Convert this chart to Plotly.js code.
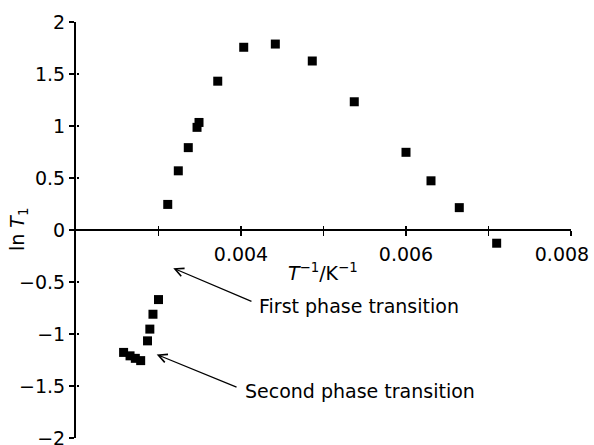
<!DOCTYPE html>
<html>
<head>
<meta charset="utf-8">
<script src="https://cdn.plot.ly/plotly-3.0.1.min.js"></script>
<style>html,body{margin:0;padding:0;background:#fff;}#chart{width:594px;height:445px;}</style>
</head>
<body>
<div id="chart"></div>
<script>
// Reciprocal temperature T^-1 / K^-1
const invT = [0.002577, 0.002655, 0.002719, 0.002784, 0.002867, 0.002895, 0.002933, 0.003000,
              0.003112, 0.003240, 0.003361, 0.003467, 0.003491, 0.003718, 0.004033, 0.004416,
              0.004864, 0.005373, 0.006000, 0.006303, 0.006646, 0.007099];
// ln T1
const lnT1 = [-1.177, -1.210, -1.234, -1.256, -1.066, -0.953, -0.810, -0.669,
              0.246, 0.569, 0.792, 0.987, 1.034, 1.431, 1.757, 1.788,
              1.625, 1.233, 0.747, 0.473, 0.215, -0.127];

const xTickVals = [0.003, 0.004, 0.005, 0.006, 0.007, 0.008];
const xTickText = ['', '0.004', '', '0.006', '', '0.008\u00a0\u00a0\u00a0'];
const yTickVals = [-2, -1.5, -1, -0.5, 0, 0.5, 1, 1.5, 2];
const yTickText = ['\u22122', '\u22121.5', '\u22121', '\u22120.5', '0', '0.5', '1', '1.5', '2'];

const xTitle = '<i>T</i><sup>\u22121</sup>/K<sup>\u22121</sup>';
const yTitle = 'ln <i>T</i><sub>1</sub>';
const label1 = 'First phase transition';
const label2 = 'Second phase transition';

const FONT = 'DejaVu Sans, Liberation Sans, Arial, sans-serif';
const FS = 19;
const xRange = [0.002, 0.008];
const yRange = [-2, 2];

const traces = [
  {
    x: invT, y: lnT1, type: 'scatter', mode: 'markers',
    marker: {symbol: 'square', size: 9, color: '#000'},
    showlegend: false, hoverinfo: 'x+y'
  },
  { x: [], y: [], xaxis: 'x2', yaxis: 'y2', type: 'scatter', mode: 'markers', showlegend: false, hoverinfo: 'skip' }
];

const layout = {
  width: 594, height: 445,
  margin: {l: 76, r: 23, t: 22, b: 7},
  paper_bgcolor: '#fff', plot_bgcolor: '#fff',
  font: {family: FONT, size: FS, color: '#000'},
  xaxis: {
    range: xRange, anchor: 'free', position: 0.5,
    showgrid: false, zeroline: false,
    showline: true, linecolor: '#000', linewidth: 2,
    ticks: 'outside', ticklen: 5, tickwidth: 1.5, tickcolor: '#000',
    tickmode: 'array', tickvals: xTickVals, ticktext: xTickText,
    ticklabelstandoff: 2, ticklabeloverflow: 'allow',
    tickfont: {family: FONT, size: FS, color: '#000'}
  },
  yaxis: {
    range: yRange, anchor: 'x',
    showgrid: false, zeroline: false,
    showline: true, linecolor: '#000', linewidth: 2,
    ticks: 'outside', ticklen: 5, tickwidth: 1.5, tickcolor: '#000',
    tickmode: 'array', tickvals: yTickVals, ticktext: yTickText,
    ticklabeloverflow: 'allow',
    tickfont: {family: FONT, size: FS, color: '#000'}
  },
  xaxis2: {
    range: xRange, overlaying: 'x', anchor: 'free', position: 0.5,
    showgrid: false, zeroline: false, showline: false,
    ticks: 'inside', ticklen: 4, tickwidth: 1.5, tickcolor: '#000',
    tickmode: 'array', tickvals: xTickVals, showticklabels: false
  },
  yaxis2: {
    range: yRange, overlaying: 'y', anchor: 'free', position: 0,
    showgrid: false, zeroline: false, showline: false,
    ticks: 'inside', ticklen: 2, tickwidth: 1.5, tickcolor: '#000',
    tickmode: 'array', tickvals: yTickVals, showticklabels: false
  },
  annotations: [
    {xref: 'x', yref: 'y', x: 0.004995, y: -0.40, text: xTitle, showarrow: false,
     xanchor: 'center', yanchor: 'middle', font: {family: FONT, size: FS, color: '#000'}},
    {xref: 'paper', yref: 'y', x: -0.117, y: 0, text: yTitle, textangle: -90, showarrow: false,
     xanchor: 'center', yanchor: 'middle', font: {family: FONT, size: FS, color: '#000'}},
    {xref: 'x', yref: 'y', x: 0.003179, y: -0.367, axref: 'x', ayref: 'y', ax: 0.004145, ay: -0.693,
     text: '', showarrow: true, arrowhead: 5, arrowsize: 1.3, arrowwidth: 1.3, arrowcolor: '#000', standoff: 0, startstandoff: 0},
    {xref: 'x', yref: 'y', x: 0.002978, y: -1.197, axref: 'x', ayref: 'y', ax: 0.003964, ay: -1.516,
     text: '', showarrow: true, arrowhead: 5, arrowsize: 1.3, arrowwidth: 1.3, arrowcolor: '#000', standoff: 0, startstandoff: 0},
    {xref: 'x', yref: 'y', x: 0.004194, y: -0.733, text: label1, showarrow: false,
     xanchor: 'left', yanchor: 'middle', font: {family: FONT, size: FS, color: '#000'}},
    {xref: 'x', yref: 'y', x: 0.004024, y: -1.545, text: label2, showarrow: false,
     xanchor: 'left', yanchor: 'middle', font: {family: FONT, size: FS, color: '#000'}}
  ]
};

Plotly.newPlot('chart', traces, layout, {staticPlot: true, displayModeBar: false});
</script>
</body>
</html>
